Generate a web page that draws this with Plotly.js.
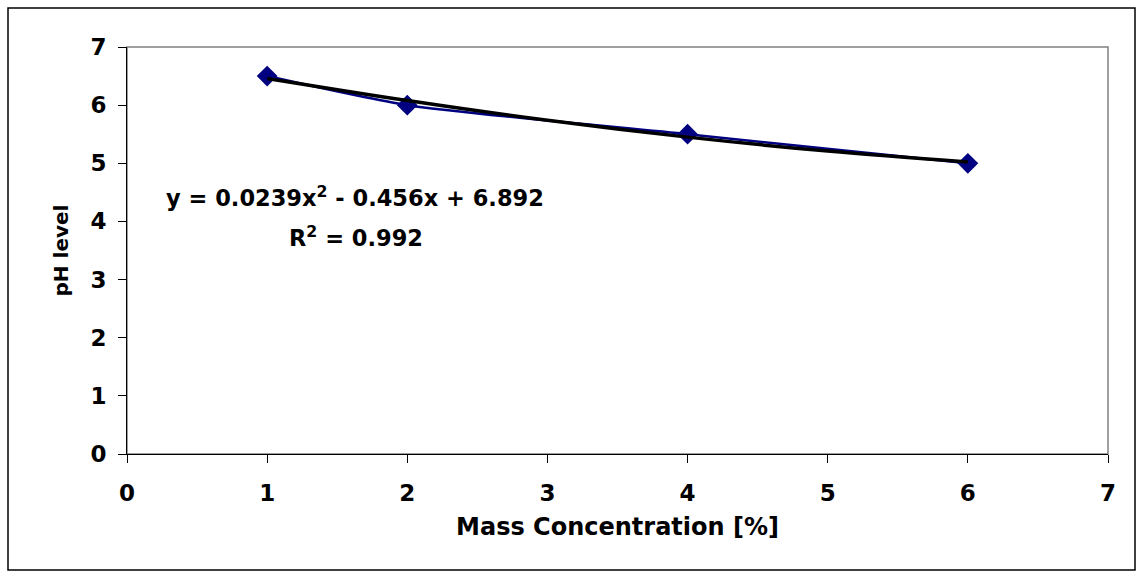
<!DOCTYPE html>
<html>
<head>
<meta charset="utf-8">
<script src="https://cdn.plot.ly/plotly-3.0.1.min.js"></script>
<style>
  html, body { margin: 0; padding: 0; background: #ffffff; }
  #chart { width: 1139px; height: 577px; }
</style>
</head>
<body>
<div id="chart"></div>
<script>
// Data
const massConcentration = [1, 2, 4, 6];
const phLevel = [6.5, 6.0, 5.5, 5.0];

// Polynomial trendline values
const trendX = [1, 2, 3, 4, 5, 6];
const trendY = [6.46, 6.08, 5.74, 5.45, 5.21, 5.02];

const xTicks = [0, 1, 2, 3, 4, 5, 6, 7];
const yTicks = [0, 1, 2, 3, 4, 5, 6, 7];

const equationText = "y = 0.0239x<sup>2</sup> - 0.456x + 6.892";
const r2Text = "R<sup>2</sup> = 0.992";
const xTitle = "Mass Concentration [%]";
const yTitle = "pH level";

const FONT = "DejaVu Sans, Arial, sans-serif";

const traces = [
  {
    x: massConcentration,
    y: phLevel,
    type: "scatter",
    mode: "lines+markers",
    line: { color: "#000080", width: 2.5, shape: "spline", smoothing: 0.6 },
    marker: { symbol: "diamond", size: 16, color: "#000080" },
    hoverinfo: "x+y",
    showlegend: false
  },
  {
    x: trendX,
    y: trendY,
    type: "scatter",
    mode: "lines",
    line: { color: "#000000", width: 3.5, shape: "spline" },
    hoverinfo: "skip",
    showlegend: false
  }
];

const L = 127, R = 31, T = 47, B = 123;
const W = 1139, H = 577;
const pw = W - L - R, ph = H - T - B;
function px2x(p) { return (p - L) / pw; }
function py2y(p) { return (H - B - p) / ph; }

const layout = {
  width: W,
  height: H,
  margin: { l: L, r: R, t: T, b: B, pad: 0 },
  paper_bgcolor: "#ffffff",
  plot_bgcolor: "#ffffff",
  font: { family: FONT, color: "#000000", size: 22, weight: "bold" },
  xaxis: {
    range: [0, 7],
    tickvals: xTicks,
    ticktext: xTicks.map(String),
    showgrid: false,
    zeroline: false,
    showline: true,
    linecolor: "#000000",
    linewidth: 1,
    ticks: "outside",
    ticklen: 8,
    tickcolor: "#000000",
    ticklabelstandoff: 10,
    tickfont: { family: FONT, size: 23, color: "#000000", weight: "bold" },
    title: { text: xTitle, font: { family: FONT, size: 24, color: "#000000", weight: "bold" }, standoff: 13 },
    fixedrange: true
  },
  yaxis: {
    range: [0, 7],
    tickvals: yTicks,
    ticktext: yTicks.map(String),
    showgrid: false,
    zeroline: false,
    showline: true,
    linecolor: "#000000",
    linewidth: 1,
    ticks: "outside",
    ticklen: 8,
    tickcolor: "#000000",
    ticklabelstandoff: 7,
    tickfont: { family: FONT, size: 23, color: "#000000", weight: "bold" },
    title: { text: yTitle, font: { family: FONT, size: 20, color: "#000000", weight: "bold" }, standoff: 16 },
    fixedrange: true
  },
  shapes: [
    {
      type: "rect", xref: "paper", yref: "paper",
      x0: 0, x1: 1, y0: 0, y1: 1,
      line: { color: "#808080", width: 1.5 },
      fillcolor: "rgba(0,0,0,0)",
      layer: "below"
    },
    {
      type: "rect", xref: "paper", yref: "paper",
      x0: px2x(8), x1: px2x(1135), y0: py2y(570), y1: py2y(8),
      line: { color: "#000000", width: 1.5 },
      fillcolor: "rgba(0,0,0,0)",
      layer: "below"
    }
  ],
  annotations: [
    {
      xref: "paper", yref: "paper",
      x: px2x(355), y: py2y(196),
      xanchor: "center", yanchor: "middle",
      text: equationText, showarrow: false,
      font: { family: FONT, size: 22.5, color: "#000000", weight: "bold" }
    },
    {
      xref: "paper", yref: "paper",
      x: px2x(356), y: py2y(236),
      xanchor: "center", yanchor: "middle",
      text: r2Text, showarrow: false,
      font: { family: FONT, size: 22.5, color: "#000000", weight: "bold" }
    }
  ]
};

Plotly.newPlot("chart", traces, layout, { displayModeBar: false, staticPlot: false, responsive: false });
</script>
</body>
</html>
